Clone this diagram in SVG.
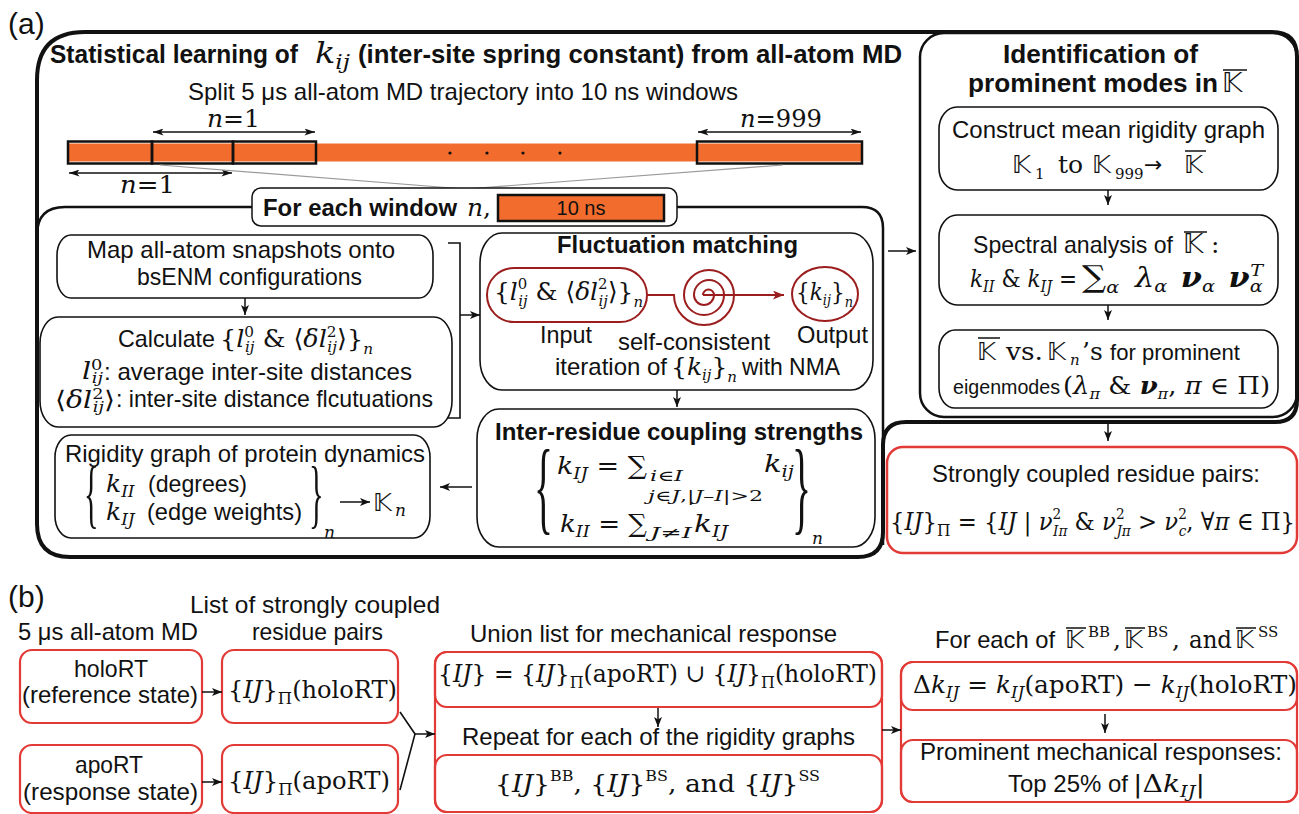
<svg xmlns="http://www.w3.org/2000/svg" width="1299" height="814" viewBox="0 0 1299 814">
<defs>
<style>
text{fill:#111}
.t{font-family:"Liberation Sans",Arial,sans-serif;font-size:24px}
.tb{font-family:"Liberation Sans",Arial,sans-serif;font-size:24px;font-weight:bold}
.m{font-family:"DejaVu Serif","Liberation Serif",serif;font-size:25px}
.i{font-style:italic}
.bf{font-weight:bold}
.sb{font-size:17px}
.ss{font-size:15px}
.bb{font-family:"DejaVu Sans","DejaVu Serif",sans-serif;font-style:normal;font-size:25px}
.br{font-family:"Liberation Serif","Times New Roman",serif;font-style:normal}
.k{fill:none;stroke:#111;stroke-width:1.6}
.r{fill:none;stroke:#e23a36;stroke-width:2.2}
.dr{fill:none;stroke:#9b1d1d;stroke-width:2}
.a{fill:none;stroke:#111;stroke-width:1.5;marker-end:url(#ah)}
.ovl{stroke:#111;stroke-width:1.5}
.or{fill:#f26d2d}
</style>
<marker id="ah" viewBox="0 0 10 8" refX="10" refY="4" markerWidth="10" markerHeight="8" markerUnits="userSpaceOnUse" orient="auto-start-reverse"><path d="M0,0 L10,4 L0,8 L2.5,4z" fill="#111"/></marker>
<marker id="ahd" viewBox="0 0 12 8" refX="12" refY="4" markerWidth="12" markerHeight="7" markerUnits="userSpaceOnUse" orient="auto-start-reverse"><path d="M0,0 L12,4 L0,8 L3,4z" fill="#111"/></marker>
<marker id="ahr" viewBox="0 0 10 8" refX="10" refY="4" markerWidth="11" markerHeight="9" markerUnits="userSpaceOnUse" orient="auto"><path d="M0,0 L10,4 L0,8 L2.5,4z" fill="#9b1d1d"/></marker>
</defs>
<rect width="1299" height="814" fill="#fff"/>

<!-- panel labels -->
<text class="t" x="8" y="34" style="font-size:30px">(a)</text>
<text class="t" x="8" y="607" style="font-size:30px">(b)</text>

<!-- frames -->
<g id="frame-a">
<path d="M37,80 Q37,32 85,32 H1272 Q1297,32 1297,57 V400 Q1297,422 1275,422 H906 Q883,422 883,445 V532 Q883,557 858,557 H70 Q37,557 37,524 Z" fill="none" stroke="#111" stroke-width="4"/>
<path d="M37,235 Q37,207 65,207 H252 M677,207 H862 Q883,207 883,228 V545" fill="none" stroke="#111" stroke-width="2.5"/>
<rect x="920" y="33" width="377" height="384" rx="24" fill="none" stroke="#111" stroke-width="2.5"/>
</g>

<g id="title-a">
<text class="tb" x="50" y="63" style="font-size:25px" textLength="248" lengthAdjust="spacingAndGlyphs">Statistical learning of</text>
<text class="m i" x="315" y="63" style="font-size:29px" textLength="35" lengthAdjust="spacingAndGlyphs">k<tspan style="font-size:20px" dy="6">ij</tspan></text>
<text class="tb" x="358" y="63" style="font-size:25px" textLength="544" lengthAdjust="spacingAndGlyphs">(inter-site spring constant) from all-atom MD</text>
<text class="t" x="188" y="100" textLength="550" lengthAdjust="spacingAndGlyphs">Split 5 μs all-atom MD trajectory into 10 ns windows</text>
</g>

<g id="trajectory">
<rect class="or" x="69" y="143.5" width="792" height="18"/>
<rect x="68" y="141.5" width="84" height="22" fill="none" stroke="#111" stroke-width="2.5"/>
<rect x="152" y="141.5" width="81" height="22" fill="none" stroke="#111" stroke-width="2.5"/>
<rect x="233" y="141.5" width="83" height="22" fill="none" stroke="#111" stroke-width="2.5"/>
<rect x="697" y="141.5" width="165" height="22" fill="none" stroke="#111" stroke-width="2.5"/>
<circle cx="450" cy="153" r="1.6" fill="#111"/>
<circle cx="487" cy="153" r="1.6" fill="#111"/>
<circle cx="523" cy="153" r="1.6" fill="#111"/>
<circle cx="560" cy="153" r="1.6" fill="#111"/>
<line x1="153" y1="132" x2="315" y2="132" stroke="#111" stroke-width="1.3" marker-start="url(#ahd)" marker-end="url(#ahd)"/>
<line x1="69" y1="173" x2="232" y2="173" stroke="#111" stroke-width="1.3" marker-start="url(#ahd)" marker-end="url(#ahd)"/>
<line x1="698" y1="132" x2="861" y2="132" stroke="#111" stroke-width="1.3" marker-start="url(#ahd)" marker-end="url(#ahd)"/>
<text class="m" x="207" y="127" textLength="53" lengthAdjust="spacingAndGlyphs"><tspan class="i">n</tspan>=1</text>
<text class="m" x="120" y="193" textLength="55" lengthAdjust="spacingAndGlyphs"><tspan class="i">n</tspan>=1</text>
<text class="m" x="740" y="127" textLength="82" lengthAdjust="spacingAndGlyphs"><tspan class="i">n</tspan>=999</text>
<path d="M160,165 L465,189 L783,165" fill="none" stroke="#9a9a9a" stroke-width="1.2"/>
</g>

<g id="window-label">
<rect x="252" y="188" width="425" height="38" rx="9" fill="#fff" stroke="#111" stroke-width="1.5"/>
<text class="tb" x="263" y="216" textLength="194" lengthAdjust="spacingAndGlyphs">For each window</text>
<text class="m" x="467" y="216"><tspan class="i">n</tspan>,</text>
<rect class="or" x="498" y="195" width="166" height="26" stroke="#111" stroke-width="2.5"/>
<text class="t" x="581" y="215" style="font-size:20px" text-anchor="middle">10 ns</text>
</g>

<!-- right panel -->
<g id="ident-title">
<text class="tb" x="1003" y="63" style="font-size:25px" textLength="195" lengthAdjust="spacingAndGlyphs">Identification of</text>
<text class="tb" x="968" y="92" style="font-size:25px" textLength="250" lengthAdjust="spacingAndGlyphs">prominent modes in</text>
<text class="bb" x="1222" y="92" style="font-size:27px">𝕂</text>
<line class="ovl" x1="1223" y1="70" x2="1247" y2="70"/>
</g>

<g id="node-construct">
<rect class="k" x="939" y="107" width="339" height="83" rx="18" ry="22"/>
<text class="t" x="952" y="138" textLength="313" lengthAdjust="spacingAndGlyphs">Construct mean rigidity graph</text>
<text class="bb" x="1012" y="173">𝕂</text>
<text class="m ss" x="1035" y="179">1</text>
<text class="m" x="1058" y="173">to</text>
<text class="bb" x="1092" y="173">𝕂</text>
<text class="m ss" x="1115" y="179">999</text>
<text class="bb" x="1144" y="172" style="font-size:22px">→</text>
<text class="bb" x="1184" y="173">𝕂</text>
<line class="ovl" x1="1185" y1="151" x2="1206" y2="151"/>
</g>

<g id="node-spectral">
<rect class="k" x="939" y="215" width="339" height="90" rx="18" ry="22"/>
<text class="t" x="973" y="253" textLength="200" lengthAdjust="spacingAndGlyphs">Spectral analysis of</text>
<text class="bb" x="1183" y="253" style="font-size:27px">𝕂</text>
<line class="ovl" x1="1184" y1="232" x2="1207" y2="232"/>
<text class="m" x="1211" y="253">:</text>
<text class="m" x="970" y="287" textLength="107" lengthAdjust="spacingAndGlyphs"><tspan class="i">k</tspan><tspan class="i sb" dy="5">II</tspan><tspan dy="-5"> &amp; </tspan><tspan class="i">k</tspan><tspan class="i sb" dy="5">IJ</tspan><tspan dy="-5"> =</tspan></text>
<text class="m" x="1082" y="287" style="font-size:27px" textLength="181" lengthAdjust="spacingAndGlyphs"><tspan style="font-size:30px">∑</tspan><tspan class="i sb" dy="6">α</tspan><tspan class="i" dx="14" dy="-6">λ</tspan><tspan class="i sb" dy="5">α</tspan><tspan class="i bf" dx="12" dy="-5">ν</tspan><tspan class="i sb" dy="5">α</tspan><tspan class="i bf" dx="12" dy="-5">ν</tspan><tspan class="i sb" dy="5">α</tspan><tspan class="i sb" dx="-11" dy="-16">T</tspan></text>
</g>

<g id="node-compare">
<rect class="k" x="939" y="330" width="339" height="78" rx="16" ry="20"/>
<text class="bb" x="977" y="360">𝕂</text>
<line class="ovl" x1="978" y1="338" x2="1000" y2="338"/>
<text class="m" x="1006" y="360" textLength="37" lengthAdjust="spacingAndGlyphs">vs.</text>
<text class="bb" x="1047" y="360">𝕂</text>
<text class="m i ss" x="1070" y="365">n</text>
<text class="m" x="1082" y="360">’s</text>
<text class="t" x="1110" y="360" style="font-size:22px" textLength="130" lengthAdjust="spacingAndGlyphs">for prominent</text>
<text class="t" x="953" y="394" style="font-size:21px" textLength="107" lengthAdjust="spacingAndGlyphs">eigenmodes</text>
<text class="m" x="1063" y="394" style="font-size:24px" textLength="207" lengthAdjust="spacingAndGlyphs">(<tspan class="i">λ</tspan><tspan class="i ss" dy="5">π</tspan><tspan dy="-5"> &amp; </tspan><tspan class="i bf">ν</tspan><tspan class="i ss" dy="5">π</tspan><tspan dy="-5">, </tspan><tspan class="i">π</tspan> ∈ Π)</text>
</g>

<g id="node-strong-pairs">
<rect x="887" y="447" width="410" height="106" rx="16" fill="#fff" stroke="#e23a36" stroke-width="2.5"/>
<text class="t" x="932" y="482" textLength="328" lengthAdjust="spacingAndGlyphs">Strongly coupled residue pairs:</text>
<text class="m" x="890" y="530" textLength="405" lengthAdjust="spacingAndGlyphs">{<tspan class="i">IJ</tspan>}<tspan class="sb" dy="6">Π</tspan><tspan dy="-6"> = {</tspan><tspan class="i">IJ</tspan> | <tspan class="i">ν</tspan><tspan class="ss" dy="-11">2</tspan><tspan class="i ss" dx="-9" dy="17">Iπ</tspan><tspan dy="-6"> &amp; </tspan><tspan class="i">ν</tspan><tspan class="ss" dy="-11">2</tspan><tspan class="i ss" dx="-9" dy="17">Jπ</tspan><tspan dy="-6"> &gt; </tspan><tspan class="i">ν</tspan><tspan class="ss" dy="-11">2</tspan><tspan class="i ss" dx="-9" dy="17">c</tspan><tspan dy="-6">, ∀</tspan><tspan class="i">π</tspan> ∈ Π}</text>
</g>

<!-- left panel nodes -->
<g id="node-map">
<rect class="k" x="57" y="235" width="376" height="63" rx="14" ry="20"/>
<text class="t" x="87" y="258" textLength="308" lengthAdjust="spacingAndGlyphs">Map all-atom snapshots onto</text>
<text class="t" x="137" y="285" textLength="225" lengthAdjust="spacingAndGlyphs">bsENM configurations</text>
</g>

<g id="node-calculate">
<rect class="k" x="40" y="317" width="412" height="110" rx="18" ry="26"/>
<text class="t" x="118" y="347" textLength="97" lengthAdjust="spacingAndGlyphs">Calculate</text>
<text class="m" x="220" y="347" textLength="153" lengthAdjust="spacingAndGlyphs">{<tspan class="i">l</tspan><tspan class="ss" dy="-10">0</tspan><tspan class="i ss" dx="-9" dy="15">ij</tspan><tspan dy="-5"> &amp; ⟨</tspan><tspan class="i">δl</tspan><tspan class="ss" dy="-10">2</tspan><tspan class="i ss" dx="-9" dy="15">ij</tspan><tspan dy="-5">⟩}</tspan><tspan class="i ss" dy="7">n</tspan></text>
<text class="m" x="82" y="379" style="font-size:24px" textLength="21" lengthAdjust="spacingAndGlyphs"><tspan class="i">l</tspan><tspan class="ss" dy="-9">0</tspan><tspan class="i ss" dx="-9" dy="13">ij</tspan></text>
<text class="t" x="104" y="380" textLength="308" lengthAdjust="spacingAndGlyphs">: average inter-site distances</text>
<text class="m" x="55" y="408" style="font-size:24px" textLength="60" lengthAdjust="spacingAndGlyphs">⟨<tspan class="i">δl</tspan><tspan class="ss" dy="-9">2</tspan><tspan class="i ss" dx="-9" dy="13">ij</tspan><tspan dy="-4">⟩</tspan></text>
<text class="t" x="116" y="407" textLength="317" lengthAdjust="spacingAndGlyphs">: inter-site distance flcutuations</text>
</g>

<g id="node-fluctuation">
<rect class="k" x="480" y="233" width="393" height="157" rx="22" ry="30"/>
<text class="tb" x="557" y="253" textLength="241" lengthAdjust="spacingAndGlyphs">Fluctuation matching</text>
<rect class="dr" x="487" y="268" width="160" height="54" rx="27"/>
<text class="m" x="494" y="300" textLength="149" lengthAdjust="spacingAndGlyphs">{<tspan class="i">l</tspan><tspan class="ss" dy="-11">0</tspan><tspan class="i ss" dx="-9" dy="17">ij</tspan><tspan dy="-6"> &amp; ⟨</tspan><tspan class="i">δl</tspan><tspan class="ss" dy="-11">2</tspan><tspan class="i ss" dx="-9" dy="17">ij</tspan><tspan dy="-6">⟩}</tspan><tspan class="i ss" dy="7">n</tspan></text>
<path class="dr" d="M647,295 H674 A30,30 0 0 0 734,295 A25,25 0 0 0 684,295 A20,20 0 0 0 724,295 A15,15 0 0 0 694,295 A10,10 0 0 0 714,295 A5.5,5.5 0 0 0 703,295"/>
<line x1="703" y1="295" x2="784" y2="295" stroke="#9b1d1d" stroke-width="2" marker-end="url(#ahr)"/>
<ellipse class="dr" cx="825" cy="294" rx="33" ry="27"/>
<text class="m" x="796" y="300" textLength="57" lengthAdjust="spacingAndGlyphs">{<tspan class="i">k</tspan><tspan class="i ss" dy="5">ij</tspan><tspan dy="-5">}</tspan><tspan class="i ss" dy="7">n</tspan></text>
<text class="t" x="540" y="343" textLength="52" lengthAdjust="spacingAndGlyphs">Input</text>
<text class="t" x="797" y="343" textLength="71" lengthAdjust="spacingAndGlyphs">Output</text>
<text class="t" x="618" y="350" textLength="152" lengthAdjust="spacingAndGlyphs">self-consistent</text>
<text class="t" x="555" y="375" textLength="112" lengthAdjust="spacingAndGlyphs">iteration of</text>
<text class="m" x="671" y="375" textLength="66" lengthAdjust="spacingAndGlyphs">{<tspan class="i">k</tspan><tspan class="i ss" dy="5">ij</tspan><tspan dy="-5">}</tspan><tspan class="i ss" dy="7">n</tspan></text>
<text class="t" x="742" y="375" textLength="98" lengthAdjust="spacingAndGlyphs">with NMA</text>
</g>

<g id="node-coupling">
<rect class="k" x="477" y="409" width="398" height="138" rx="22" ry="30"/>
<text class="tb" x="495" y="440" textLength="368" lengthAdjust="spacingAndGlyphs">Inter-residue coupling strengths</text>
<text class="m br" style="font-size:104px" transform="translate(534,521) scale(0.38,1)">{</text>
<text class="m" x="557" y="474" textLength="90" lengthAdjust="spacingAndGlyphs"><tspan class="i">k</tspan><tspan class="i sb" dy="5">IJ</tspan><tspan dy="-5"> = ∑</tspan></text>
<text class="m i ss" x="650" y="481" textLength="33" lengthAdjust="spacingAndGlyphs">i∈I</text>
<text class="m ss" x="648" y="501" textLength="115" lengthAdjust="spacingAndGlyphs"><tspan class="i">j</tspan>∈<tspan class="i">J</tspan>,|<tspan class="i">J</tspan>–<tspan class="i">I</tspan>|&gt;2</text>
<text class="m" x="764" y="472" textLength="30" lengthAdjust="spacingAndGlyphs"><tspan class="i">k</tspan><tspan class="i sb" dy="5">ij</tspan></text>
<text class="m" x="560" y="532" textLength="87" lengthAdjust="spacingAndGlyphs"><tspan class="i">k</tspan><tspan class="i sb" dy="5">II</tspan><tspan dy="-5"> = ∑</tspan></text>
<text class="m ss" x="650" y="538" textLength="42" lengthAdjust="spacingAndGlyphs"><tspan class="i">J</tspan>≠<tspan class="i">I</tspan></text>
<text class="m" x="694" y="532" textLength="34" lengthAdjust="spacingAndGlyphs"><tspan class="i">k</tspan><tspan class="i sb" dy="5">IJ</tspan></text>
<text class="m br" style="font-size:104px" transform="translate(792,521) scale(0.38,1)">}</text>
<text class="m i sb" x="812" y="544">n</text>
</g>

<g id="node-rigidity">
<rect class="k" x="55" y="435" width="375" height="103" rx="16" ry="22"/>
<text class="t" x="65" y="462" textLength="360" lengthAdjust="spacingAndGlyphs">Rigidity graph of protein dynamics</text>
<text class="m br" style="font-size:76px" transform="translate(84,519) scale(0.4,1)">{</text>
<text class="m" x="106" y="492"><tspan class="i">k</tspan><tspan class="i sb" dy="5">II</tspan></text>
<text class="t" x="148" y="492" textLength="99" lengthAdjust="spacingAndGlyphs">(degrees)</text>
<text class="m" x="106" y="520"><tspan class="i">k</tspan><tspan class="i sb" dy="5">IJ</tspan></text>
<text class="t" x="147" y="520" textLength="155" lengthAdjust="spacingAndGlyphs">(edge weights)</text>
<text class="m br" style="font-size:76px" transform="translate(309,519) scale(0.4,1)">}</text>
<text class="m i sb" x="324" y="538">n</text>
<text class="bb" x="373" y="511">𝕂</text>
<text class="m i sb" x="395" y="516">n</text>
</g>

<!-- part (b) -->
<g id="b-headers">
<text class="t" x="18" y="640" textLength="180" lengthAdjust="spacingAndGlyphs">5 μs all-atom MD</text>
<text class="t" x="190" y="613" textLength="250" lengthAdjust="spacingAndGlyphs">List of strongly coupled</text>
<text class="t" x="252" y="640" textLength="131" lengthAdjust="spacingAndGlyphs">residue pairs</text>
<text class="t" x="470" y="642" textLength="367" lengthAdjust="spacingAndGlyphs">Union list for mechanical response</text>
<text class="t" x="935" y="648" textLength="120" lengthAdjust="spacingAndGlyphs">For each of</text>
<text class="bb" x="1065" y="648">𝕂</text>
<line class="ovl" x1="1066" y1="628" x2="1086" y2="628"/>
<text class="m ss" x="1088" y="637">BB</text>
<text class="m" x="1113" y="648">,</text>
<text class="bb" x="1124" y="648">𝕂</text>
<line class="ovl" x1="1125" y1="628" x2="1145" y2="628"/>
<text class="m ss" x="1147" y="637">BS</text>
<text class="m" x="1172" y="648">,</text>
<text class="m" x="1189" y="648" textLength="43" lengthAdjust="spacingAndGlyphs">and</text>
<text class="bb" x="1235" y="648">𝕂</text>
<line class="ovl" x1="1236" y1="628" x2="1256" y2="628"/>
<text class="m ss" x="1258" y="637">SS</text>
</g>

<g id="node-holo">
<rect class="r" x="20" y="650" width="182" height="73" rx="12"/>
<text class="t" x="111" y="677" text-anchor="middle" textLength="74" lengthAdjust="spacingAndGlyphs">holoRT</text>
<text class="t" x="22" y="703" textLength="176" lengthAdjust="spacingAndGlyphs">(reference state)</text>
</g>
<g id="node-apo">
<rect class="r" x="20" y="745" width="182" height="68" rx="12"/>
<text class="t" x="109" y="773" text-anchor="middle" textLength="68" lengthAdjust="spacingAndGlyphs">apoRT</text>
<text class="t" x="23" y="800" textLength="175" lengthAdjust="spacingAndGlyphs">(response state)</text>
</g>
<g id="node-ij-holo">
<rect class="r" x="222" y="650" width="176" height="73" rx="12"/>
<text class="m" x="228" y="698" textLength="169" lengthAdjust="spacingAndGlyphs">{<tspan class="i">IJ</tspan>}<tspan class="sb" dy="6">Π</tspan><tspan dy="-6">(holoRT)</tspan></text>
</g>
<g id="node-ij-apo">
<rect class="r" x="222" y="745" width="176" height="68" rx="12"/>
<text class="m" x="228" y="789" textLength="162" lengthAdjust="spacingAndGlyphs">{<tspan class="i">IJ</tspan>}<tspan class="sb" dy="6">Π</tspan><tspan dy="-6">(apoRT)</tspan></text>
</g>
<g id="node-union">
<rect class="r" x="435" y="652" width="447" height="160" rx="12"/>
<rect class="r" x="435" y="652" width="447" height="55" rx="12"/>
<rect class="r" x="435" y="755" width="447" height="57" rx="12"/>
<text class="m" x="438" y="682" textLength="439" lengthAdjust="spacingAndGlyphs">{<tspan class="i">IJ</tspan>} = {<tspan class="i">IJ</tspan>}<tspan class="sb" dy="6">Π</tspan><tspan dy="-6">(apoRT) ∪ {</tspan><tspan class="i">IJ</tspan>}<tspan class="sb" dy="6">Π</tspan><tspan dy="-6">(holoRT)</tspan></text>
<text class="t" x="462" y="745" textLength="393" lengthAdjust="spacingAndGlyphs">Repeat for each of the rigidity graphs</text>
<text class="m" x="495" y="792" textLength="325" lengthAdjust="spacingAndGlyphs">{<tspan class="i">IJ</tspan>}<tspan class="ss" dy="-11">BB</tspan><tspan dy="11">, {</tspan><tspan class="i">IJ</tspan>}<tspan class="ss" dy="-11">BS</tspan><tspan dy="11">, and {</tspan><tspan class="i">IJ</tspan>}<tspan class="ss" dy="-11">SS</tspan></text>
</g>
<g id="node-delta">
<rect class="r" x="901" y="662" width="396" height="140" rx="12"/>
<rect class="r" x="901" y="662" width="396" height="48" rx="12"/>
<rect class="r" x="901" y="740" width="396" height="62" rx="12"/>
<text class="m" x="913" y="693" textLength="384" lengthAdjust="spacingAndGlyphs">Δ<tspan class="i">k</tspan><tspan class="i sb" dy="5">IJ</tspan><tspan dy="-5"> = </tspan><tspan class="i">k</tspan><tspan class="i sb" dy="5">IJ</tspan><tspan dy="-5">(apoRT) − </tspan><tspan class="i">k</tspan><tspan class="i sb" dy="5">IJ</tspan><tspan dy="-5">(holoRT)</tspan></text>
<text class="t" x="920" y="760" textLength="362" lengthAdjust="spacingAndGlyphs">Prominent mechanical responses:</text>
<text class="t" x="1008" y="792" textLength="120" lengthAdjust="spacingAndGlyphs">Top 25% of</text>
<text class="m" x="1133" y="792" textLength="72" lengthAdjust="spacingAndGlyphs">|Δ<tspan class="i">k</tspan><tspan class="i sb" dy="5">IJ</tspan><tspan dy="-5">|</tspan></text>
</g>

<g id="connectors">
<line class="a" x1="245" y1="298" x2="245" y2="315"/>
<path class="k" d="M448,243 H460 V418 H448" stroke-width="1.5"/>
<line class="a" x1="460" y1="315" x2="480" y2="315"/>
<line class="a" x1="677" y1="390" x2="677" y2="407"/>
<line class="a" x1="472" y1="487" x2="440" y2="487"/>
<line class="a" x1="340" y1="502" x2="370" y2="502"/>
<line class="a" x1="888" y1="251" x2="916" y2="251"/>
<line class="a" x1="1108" y1="190" x2="1108" y2="205"/>
<line class="a" x1="1108" y1="305" x2="1108" y2="320"/>
<line class="a" x1="1108" y1="424" x2="1108" y2="441"/>
<line class="a" x1="202" y1="692" x2="222" y2="692"/>
<line class="a" x1="202" y1="782" x2="222" y2="782"/>
<path class="k" d="M400,712 L415,734 L400,790" stroke-width="1.5"/>
<line class="a" x1="415" y1="734" x2="435" y2="734"/>
<line class="a" x1="658" y1="708" x2="658" y2="727"/>
<line class="a" x1="882" y1="730" x2="901" y2="730"/>
<line class="a" x1="1105" y1="714" x2="1105" y2="733"/>
</g>
</svg>
